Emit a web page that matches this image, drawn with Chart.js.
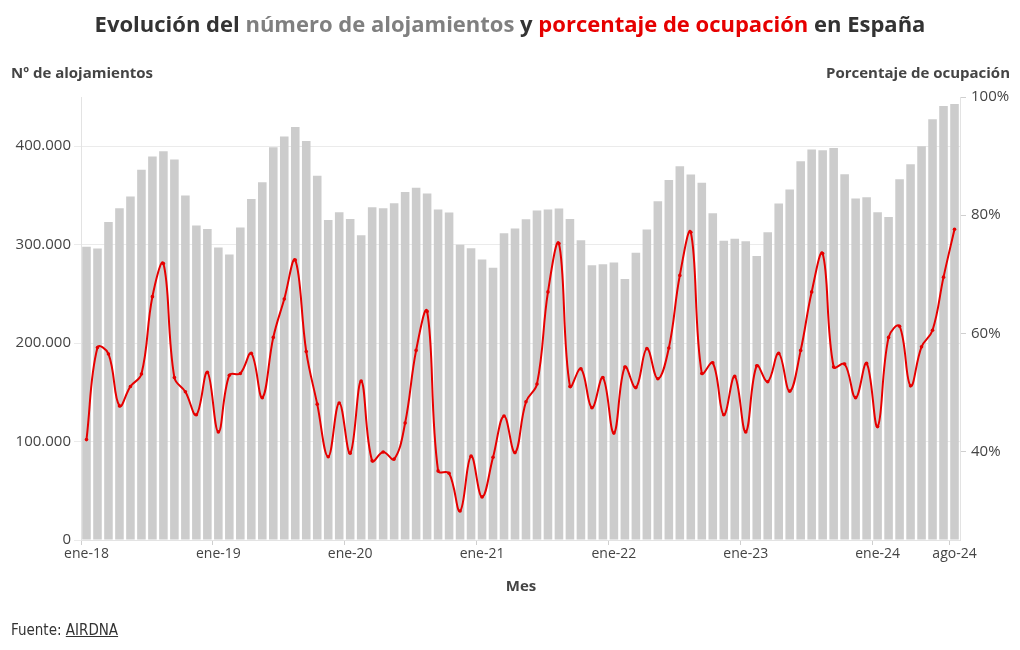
<!DOCTYPE html>
<html lang="es">
<head>
<meta charset="utf-8">
<script src="https://cdn.jsdelivr.net/npm/chart.js@4.4.1/dist/chart.umd.min.js"></script>
<style>
    html, body { margin: 0; padding: 0; background: #fff; }
    #wrap { position: relative; width: 1020px; height: 650px; font-family: "Open Sans", "Lato", sans-serif; color: #333; }
    #wrap canvas { position: absolute; left: 0; top: 0; }
    .txt { position: absolute; white-space: nowrap; }
    #title { left: 0; width: 1020px; top: 8px; text-align: center; font-size: 22px; font-weight: 700; color: #333; }
    #title .g { color: #808080; }
    #title .r { color: #e60000; }
    #ytitle { left: 11px; top: 62px; font-size: 15px; font-weight: 700; color: #444; }
    #y1title { right: 10px; top: 62px; font-size: 15px; font-weight: 700; color: #444; }
    #xtitle { left: 0; width: 1042px; top: 575px; text-align: center; font-size: 15px; font-weight: 700; color: #444; }
    #source { left: 11px; top: 621px; font-size: 15px; color: #333; font-family: "Liberation Sans Narrow", "DejaVu Sans Condensed", sans-serif; }
    #source a { color: #333; text-decoration: underline; }
</style>
</head>
<body>
<div id="wrap">
    <canvas id="chart" width="1020" height="650"></canvas>
    <div class="txt" id="title">Evolución del <span class="g">número de alojamientos</span> y <span class="r">porcentaje de ocupación</span> en España</div>
    <div class="txt" id="ytitle">Nº de alojamientos</div>
    <div class="txt" id="y1title">Porcentaje de ocupación</div>
    <div class="txt" id="xtitle">Mes</div>
    <div class="txt" id="source">Fuente: <a href="#">AIRDNA</a></div>
</div>
<script>
// Meses y años del periodo (ene-18 a ago-24)
const meses = ["ene", "feb", "mar", "abr", "may", "jun", "jul", "ago", "sep", "oct", "nov", "dic"];
const anios = ["18", "19", "20", "21", "22", "23", "24"];
const etiquetas = [];
anios.forEach(a => meses.forEach(m => etiquetas.push(m + "-" + a)));
etiquetas.length = 80;

// Numero de alojamientos por mes
const alojamientos = [
    298000, 296000, 323000, 337000, 349000, 376000, 389500, 395000, 386500, 350000, 319500, 316000,
    297000, 290000, 317500, 346500, 363500, 399000, 410000, 419600, 405400, 370000, 325000, 333000,
    326000, 309600, 338000, 337000, 342000, 353600, 357700, 352000, 335700, 332700, 300000, 296400,
    285000, 276500, 311700, 316400, 325900, 334700, 335700, 336700, 326000, 304600, 279000, 280000,
    282000, 265000, 291700, 315400, 344000, 365800, 379700, 371300, 363000, 332000, 304000, 306000,
    303500, 288600, 312700, 341800, 356000, 384800, 396600, 395900, 398300, 371600, 346900, 348200,
    333000, 328000, 366500, 381700, 400000, 427400, 440900, 443000
];

// Porcentaje de ocupacion por mes
const ocupacion = [
    42.0, 57.6, 56.5, 47.7, 51.0, 53.1, 66.2, 71.8, 52.5, 50.1, 46.2, 53.4,
    43.3, 52.9, 53.2, 56.6, 49.1, 59.3, 65.8, 72.4, 56.9, 48.0, 39.1, 48.2,
    39.7, 51.9, 38.4, 39.9, 38.7, 44.8, 57.1, 63.7, 36.7, 36.3, 29.9, 39.2,
    32.3, 39.0, 46.0, 39.8, 48.4, 51.4, 67.0, 75.2, 51.0, 54.0, 47.4, 52.5,
    43.1, 54.3, 50.8, 57.4, 52.3, 57.5, 69.8, 77.1, 53.2, 55.0, 46.2, 52.7,
    43.3, 54.5, 51.8, 56.6, 50.2, 57.1, 67.0, 73.5, 54.3, 54.8, 49.1, 54.9,
    44.2, 59.3, 61.2, 51.1, 57.7, 60.5, 69.5, 77.6
];

// Ticks de los ejes
const ticksAlojamientos = [0, 100000, 200000, 300000, 400000];
const ticksOcupacion = [40, 60, 80, 100];

// Se muestra etiqueta solo en enero y en el ultimo mes
const conEtiqueta = i => i != null && etiquetas[i] !== undefined &&
    (etiquetas[i].startsWith("ene") || i === etiquetas.length - 1);

function formatoMiles(v) {
    return String(v).replace(/\B(?=(\d{3})+(?!\d))/g, ".");
}

const fuenteTicks = { family: "Open Sans", size: 15 };

new Chart(document.getElementById("chart"), {
    data: {
        labels: etiquetas,
        datasets: [
            {
                type: "line",
                label: "Porcentaje de ocupación",
                data: ocupacion,
                yAxisID: "y1",
                borderColor: "#e60000",
                backgroundColor: "#e60000",
                borderWidth: 2,
                pointRadius: 1.8,
                pointBorderWidth: 0,
                pointHoverRadius: 3,
                tension: 0.4,
                order: 0
            },
            {
                type: "bar",
                label: "Nº de alojamientos",
                data: alojamientos,
                yAxisID: "y",
                backgroundColor: "#cccccc",
                barPercentage: 0.78,
                categoryPercentage: 1,
                order: 1
            }
        ]
    },
    options: {
        responsive: false,
        animation: false,
        layout: { padding: { top: 97, left: 0, right: 0, bottom: 0 } },
        plugins: {
            legend: { display: false },
            tooltip: { enabled: false }
        },
        scales: {
            x: {
                offset: true,
                grid: {
                    drawOnChartArea: false,
                    tickLength: 5,
                    color: ctx => conEtiqueta(ctx.index) ? "#cfcfcf" : "rgba(0,0,0,0)"
                },
                border: { color: "#e3e3e3" },
                ticks: {
                    autoSkip: false,
                    maxRotation: 0,
                    padding: 1,
                    color: "#444",
                    font: { family: "Open Sans", size: 14 },
                    callback: (v, i) => conEtiqueta(i) ? etiquetas[i] : ""
                },
                afterFit: s => { s.height = 110; }
            },
            y: {
                position: "left",
                min: 0,
                max: 450000,
                afterBuildTicks: s => { s.ticks = ticksAlojamientos.map(v => ({ value: v })); },
                grid: { color: "#ebebeb", tickLength: 7 },
                border: { color: "#e3e3e3" },
                ticks: {
                    padding: 3,
                    color: "#444",
                    font: fuenteTicks,
                    callback: v => formatoMiles(v)
                },
                afterFit: s => { s.width = 81; }
            },
            y1: {
                position: "right",
                min: 25,
                max: 100,
                afterBuildTicks: s => { s.ticks = ticksOcupacion.map(v => ({ value: v })); },
                grid: { drawOnChartArea: false, color: "#cfcfcf", tickLength: 6 },
                border: { color: "#e3e3e3" },
                ticks: {
                    padding: 5,
                    color: "#444",
                    font: fuenteTicks,
                    callback: v => v + "%"
                },
                afterFit: s => { s.width = 60; }
            }
        }
    }
});
</script>
</body>
</html>
